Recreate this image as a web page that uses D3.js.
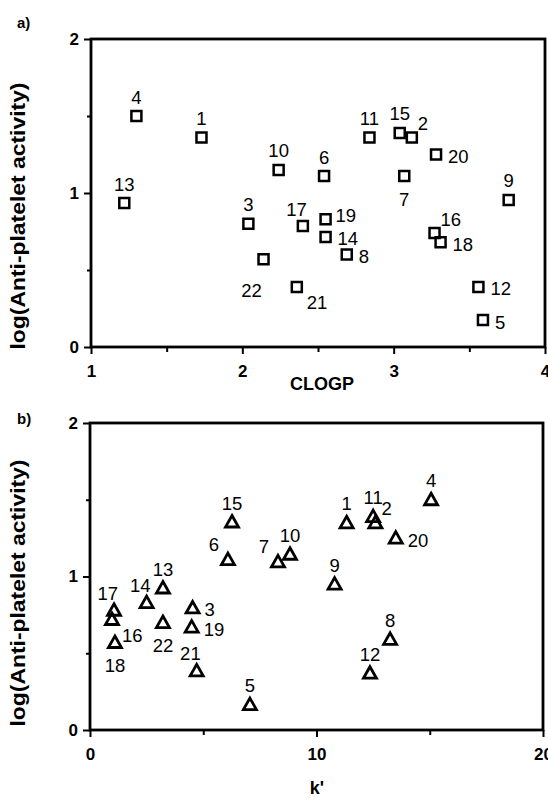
<!DOCTYPE html>
<html>
<head>
<meta charset="utf-8">
<script src="https://cdn.jsdelivr.net/npm/d3@7"></script>
<style>
  html, body { margin: 0; padding: 0; background: #fff; }
  svg { display: block; font-family: "Liberation Sans", Arial, sans-serif; }
</style>
</head>
<body>
<svg id="chart" width="548" height="804"></svg>
<script>
// compound numbers 1..22
const compounds = d3.range(1, 23);

// panel a) CLOGP vs log(activity)
const clogp = [1.73, 3.12, 2.04, 1.30, 3.59, 2.54, 3.07, 2.69, 3.76, 2.24, 2.84,
               3.56, 1.22, 2.55, 3.04, 3.27, 2.40, 3.31, 2.55, 3.28, 2.36, 2.14];
const activityA = [1.36, 1.36, 0.80, 1.50, 0.175, 1.11, 1.11, 0.60, 0.955, 1.15, 1.36,
                   0.39, 0.935, 0.715, 1.39, 0.74, 0.785, 0.68, 0.83, 1.25, 0.39, 0.57];
const labelSideA = ["n", "ne", "n", "n", "e", "n", "s", "e", "n", "n", "n",
                    "e", "n", "e", "n", "ne", "nw", "e", "en", "e", "se", "sw"];

// panel b) k' vs log(activity)
const kPrime = [11.33, 12.6, 4.53, 15.06, 7.06, 6.09, 8.3, 13.25, 10.8, 8.83, 12.5,
                12.36, 3.22, 2.5, 6.27, 0.97, 1.06, 1.1, 4.49, 13.5, 4.71, 3.22];
const activityB = [1.35, 1.35, 0.795, 1.50, 0.165, 1.11, 1.095, 0.59, 0.95, 1.145, 1.39,
                   0.37, 0.925, 0.83, 1.355, 0.72, 0.78, 0.57, 0.67, 1.25, 0.385, 0.70];
const labelSideB = ["n", "ne", "e", "n", "n", "w", "w", "n", "n", "n", "n",
                    "n", "n", "nw", "n", "se", "nw", "s", "e", "e", "nw", "s"];

const yTicks = [0, 1, 2];
const yMinor = [0.5, 1.5];
const xTicksA = [1, 2, 3, 4];
const xMinorA = [1.5, 2.5, 3.5];
const xTicksB = [0, 10, 20];
const xMinorB = [5, 15];

const svg = d3.select("#chart");

// where each label sits relative to its marker
const labelPlace = {
  n:  { anchor: "middle", dx: 0,   dy: -19 },
  s:  { anchor: "middle", dx: 0,   dy: 23 },
  e:  { anchor: "start",  dx: 12,  dy: 2 },
  en: { anchor: "start",  dx: 10,  dy: -4 },
  ne: { anchor: "start",  dx: 6,   dy: -14 },
  nw: { anchor: "end",    dx: 4,   dy: -17 },
  w:  { anchor: "end",    dx: -9,  dy: -15 },
  se: { anchor: "start",  dx: 10,  dy: 16 },
  sw: { anchor: "middle", dx: -12, dy: 31 }
};

function drawPanel(opts) {
  const x = d3.scaleLinear().domain(opts.xDomain).range([opts.left, opts.right]);
  const y = d3.scaleLinear().domain([0, 2]).range([opts.bottom, opts.top]);
  const g = svg.append("g");

  // y axis ticks
  g.append("g")
    .attr("transform", `translate(${opts.left},0)`)
    .call(d3.axisLeft(y).tickValues(yTicks).tickFormat(d3.format("d")).tickSize(7).tickPadding(5));
  g.append("g")
    .attr("transform", `translate(${opts.left},0)`)
    .call(d3.axisLeft(y).tickValues(yMinor).tickFormat("").tickSize(4));

  // x axis ticks
  g.append("g")
    .attr("transform", `translate(0,${opts.bottom})`)
    .call(d3.axisBottom(x).tickValues(opts.xTicks).tickFormat(d3.format("d")).tickSize(7).tickPadding(11));
  g.append("g")
    .attr("transform", `translate(0,${opts.bottom})`)
    .call(d3.axisBottom(x).tickValues(opts.xMinor).tickFormat("").tickSize(5));

  g.selectAll(".domain").remove();
  g.selectAll(".tick line").attr("stroke", "#000").attr("stroke-width", 2);
  g.selectAll(".tick text")
    .attr("fill", "#000")
    .attr("font-size", 17)
    .attr("font-weight", "bold")
    .attr("font-family", "Liberation Sans, Arial, sans-serif");

  // frame
  g.append("rect")
    .attr("x", opts.left)
    .attr("y", opts.top)
    .attr("width", opts.right - opts.left)
    .attr("height", opts.bottom - opts.top)
    .attr("fill", "none")
    .attr("stroke", "#000")
    .attr("stroke-width", 2.8);

  // markers
  const pts = compounds.map((c, i) => ({ id: c, x: opts.xs[i], y: opts.ys[i], side: opts.sides[i] }));

  const marks = g.selectAll(".mark")
    .data(pts)
    .enter()
    .append("path")
    .attr("class", "mark")
    .attr("transform", d => `translate(${x(d.x)},${y(d.y)})`)
    .attr("fill", "none")
    .attr("stroke", "#000")
    .attr("stroke-linejoin", "miter");

  if (opts.shape === "square") {
    marks.attr("d", "M-5,-5H5V5H-5Z").attr("stroke-width", 2.5);
  } else {
    marks.attr("d", "M0,-6.5L6.5,5L-6.5,5Z").attr("stroke-width", 2.8);
  }

  g.selectAll(".lbl")
    .data(pts)
    .enter()
    .append("text")
    .attr("class", "lbl")
    .attr("x", d => x(d.x) + labelPlace[d.side].dx)
    .attr("y", d => y(d.y) + labelPlace[d.side].dy)
    .attr("text-anchor", d => labelPlace[d.side].anchor)
    .attr("dominant-baseline", "central")
    .attr("font-size", 18.5)
    .text(d => d.id);

  // axis titles
  g.append("text")
    .attr("x", opts.xTitlePos[0])
    .attr("y", opts.xTitlePos[1])
    .attr("text-anchor", "middle")
    .attr("dominant-baseline", "central")
    .attr("font-size", 18)
    .attr("font-weight", "bold")
    .text(opts.xTitle);

  g.append("text")
    .attr("transform", `translate(18,${opts.yTitleY}) rotate(-90)`)
    .attr("text-anchor", "middle")
    .attr("dominant-baseline", "central")
    .attr("font-size", 20)
    .attr("font-weight", "bold")
    .attr("textLength", 267)
    .attr("lengthAdjust", "spacingAndGlyphs")
    .text("log(Anti-platelet activity)");

  g.append("text")
    .attr("x", 17)
    .attr("y", opts.tagY)
    .attr("dominant-baseline", "central")
    .attr("font-size", 15)
    .attr("font-weight", "bold")
    .text(opts.tag);
}

drawPanel({
  tag: "a)", tagY: 22,
  left: 91, right: 545, top: 39, bottom: 347,
  xDomain: [1, 4], xTicks: xTicksA, xMinor: xMinorA,
  xs: clogp, ys: activityA, sides: labelSideA, shape: "square",
  xTitle: "CLOGP", xTitlePos: [322, 384], yTitleY: 216
});

drawPanel({
  tag: "b)", tagY: 418,
  left: 90, right: 543, top: 423, bottom: 730,
  xDomain: [0, 20], xTicks: xTicksB, xMinor: xMinorB,
  xs: kPrime, ys: activityB, sides: labelSideB, shape: "triangle",
  xTitle: "k'", xTitlePos: [317, 788], yTitleY: 593
});
</script>
</body>
</html>
